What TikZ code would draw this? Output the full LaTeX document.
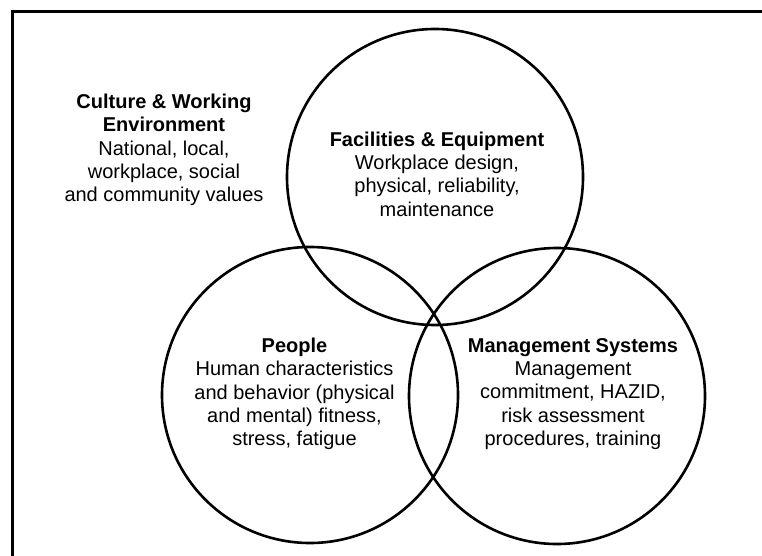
\documentclass[tikz,border=0pt]{standalone}
\usepackage{fontspec}
\setmainfont{Liberation Sans}
\begin{document}
\begin{tikzpicture}[x=1pt,y=-1pt,
  ring/.style={draw=black,line width=2.6pt,circle,minimum size=296pt,inner sep=0pt},
  frameline/.style={draw=black,line width=3pt},
  label/.style={align=center,font=\fontsize{20}{23.3}\selectfont,inner sep=0pt}]
\useasboundingbox (0,0) rectangle (762,556);
% outer frame (left and top edges)
\coordinate (fbl) at (12.5,560);
\coordinate (ftl) at (12.5,11.5);
\coordinate (ftr) at (766,11.5);
\draw[frameline] (fbl) -- (ftl) -- (ftr);
% the three overlapping circles
\node[ring] (fac) at (435,177) {};
\node[ring] (ppl) at (310,395) {};
\node[ring] (mgt) at (557,396) {};
% texts
\node[label] (cult) at (164,150) {\textbf{Culture \& Working}\\\textbf{Environment}\\National, local,\\workplace, social\\and community values};
\node[label] (factxt) at (437,174) {\textbf{Facilities \& Equipment}\\Workplace design,\\physical, reliability,\\maintenance};
\node[label] (ppltxt) at (294.5,394) {\textbf{People}\\Human characteristics\\and behavior (physical\\and mental) fitness,\\stress, fatigue};
\node[label] (mgttxt) at (573,394) {\textbf{Management Systems}\\Management\\commitment, HAZID,\\risk assessment\\procedures, training};
\end{tikzpicture}
\end{document}
